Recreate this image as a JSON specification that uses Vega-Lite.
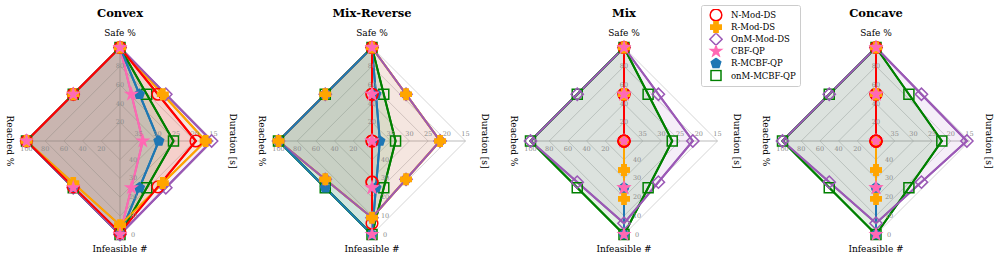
{
  "$schema": "https://vega.github.io/schema/vega-lite/v6.json",
  "padding": {"top": 4, "left": 0, "right": 0, "bottom": 0},
  "spacing": 12,
  "config": {
    "view": {"stroke": null},
    "title": {"font": "DejaVu Serif", "fontSize": 11.5, "fontWeight": "bold", "offset": 3, "color": "#000000", "anchor": "middle"},
    "legend": {"orient": "none", "legendX": 701, "legendY": -17, "labelFont": "DejaVu Serif", "labelFontSize": 8.5, "labelColor": "#000000", "symbolSize": 100, "symbolStrokeWidth": 1.5, "strokeColor": "#cccccc", "fillColor": "rgba(255,255,255,0.8)", "padding": 4, "cornerRadius": 2, "rowPadding": 0.1, "clipHeight": 12, "symbolOffset": 4, "labelOffset": 8, "titlePadding": 0}
  },
  "resolve": {"scale": {"stroke": "shared", "fill": "shared", "shape": "shared", "fillOpacity": "shared", "size": "shared"}, "legend": {"stroke": "shared", "fill": "shared", "shape": "shared", "fillOpacity": "shared"}},
  "datasets": {
    "all": [
      {"k": 1, "a": "Safe %", "v": 20}, {"k": 2, "a": "Safe %", "v": 40}, {"k": 3, "a": "Safe %", "v": 60}, {"k": 4, "a": "Safe %", "v": 80}, {"k": 5, "a": "Safe %", "v": 100},
      {"k": 1, "a": "Duration [s]", "v": 35}, {"k": 2, "a": "Duration [s]", "v": 30}, {"k": 3, "a": "Duration [s]", "v": 25}, {"k": 4, "a": "Duration [s]", "v": 20}, {"k": 5, "a": "Duration [s]", "v": 15},
      {"k": 1, "a": "Infeasible #", "v": 40}, {"k": 2, "a": "Infeasible #", "v": 30}, {"k": 3, "a": "Infeasible #", "v": 20}, {"k": 4, "a": "Infeasible #", "v": 10}, {"k": 5, "a": "Infeasible #", "v": 0},
      {"k": 1, "a": "Reached %", "v": 20}, {"k": 2, "a": "Reached %", "v": 40}, {"k": 3, "a": "Reached %", "v": 60}, {"k": 4, "a": "Reached %", "v": 80}, {"k": 5, "a": "Reached %", "v": 100},

      {"p": "Convex", "s": "N-Mod-DS", "a": "Safe %", "v": 100}, {"p": "Convex", "s": "N-Mod-DS", "a": "Duration [s]", "v": 19.7}, {"p": "Convex", "s": "N-Mod-DS", "a": "Infeasible #", "v": 1}, {"p": "Convex", "s": "N-Mod-DS", "a": "Reached %", "v": 100},
      {"p": "Convex", "s": "R-Mod-DS", "a": "Safe %", "v": 100}, {"p": "Convex", "s": "R-Mod-DS", "a": "Duration [s]", "v": 17.1}, {"p": "Convex", "s": "R-Mod-DS", "a": "Infeasible #", "v": 5}, {"p": "Convex", "s": "R-Mod-DS", "a": "Reached %", "v": 100},
      {"p": "Convex", "s": "OnM-Mod-DS", "a": "Safe %", "v": 100}, {"p": "Convex", "s": "OnM-Mod-DS", "a": "Duration [s]", "v": 15.5}, {"p": "Convex", "s": "OnM-Mod-DS", "a": "Infeasible #", "v": 0}, {"p": "Convex", "s": "OnM-Mod-DS", "a": "Reached %", "v": 100},
      {"p": "Convex", "s": "CBF-QP", "a": "Safe %", "v": 100}, {"p": "Convex", "s": "CBF-QP", "a": "Duration [s]", "v": 33.9}, {"p": "Convex", "s": "CBF-QP", "a": "Infeasible #", "v": 0}, {"p": "Convex", "s": "CBF-QP", "a": "Reached %", "v": 100},
      {"p": "Convex", "s": "R-MCBF-QP", "a": "Safe %", "v": 100}, {"p": "Convex", "s": "R-MCBF-QP", "a": "Duration [s]", "v": 29.6}, {"p": "Convex", "s": "R-MCBF-QP", "a": "Infeasible #", "v": 0}, {"p": "Convex", "s": "R-MCBF-QP", "a": "Reached %", "v": 100},
      {"p": "Convex", "s": "onM-MCBF-QP", "a": "Safe %", "v": 100}, {"p": "Convex", "s": "onM-MCBF-QP", "a": "Duration [s]", "v": 25.7}, {"p": "Convex", "s": "onM-MCBF-QP", "a": "Infeasible #", "v": 0}, {"p": "Convex", "s": "onM-MCBF-QP", "a": "Reached %", "v": 100},

      {"p": "Mix-Reverse", "s": "N-Mod-DS", "a": "Safe %", "v": 100}, {"p": "Mix-Reverse", "s": "N-Mod-DS", "a": "Duration [s]", "v": 40}, {"p": "Mix-Reverse", "s": "N-Mod-DS", "a": "Infeasible #", "v": 6}, {"p": "Mix-Reverse", "s": "N-Mod-DS", "a": "Reached %", "v": 0},
      {"p": "Mix-Reverse", "s": "R-Mod-DS", "a": "Safe %", "v": 100}, {"p": "Mix-Reverse", "s": "R-Mod-DS", "a": "Duration [s]", "v": 21.8}, {"p": "Mix-Reverse", "s": "R-Mod-DS", "a": "Infeasible #", "v": 9}, {"p": "Mix-Reverse", "s": "R-Mod-DS", "a": "Reached %", "v": 100},
      {"p": "Mix-Reverse", "s": "OnM-Mod-DS", "a": "Safe %", "v": 100}, {"p": "Mix-Reverse", "s": "OnM-Mod-DS", "a": "Duration [s]", "v": 21.8}, {"p": "Mix-Reverse", "s": "OnM-Mod-DS", "a": "Infeasible #", "v": 9}, {"p": "Mix-Reverse", "s": "OnM-Mod-DS", "a": "Reached %", "v": 100},
      {"p": "Mix-Reverse", "s": "CBF-QP", "a": "Safe %", "v": 100}, {"p": "Mix-Reverse", "s": "CBF-QP", "a": "Duration [s]", "v": 40}, {"p": "Mix-Reverse", "s": "CBF-QP", "a": "Infeasible #", "v": 0}, {"p": "Mix-Reverse", "s": "CBF-QP", "a": "Reached %", "v": 0},
      {"p": "Mix-Reverse", "s": "R-MCBF-QP", "a": "Safe %", "v": 100}, {"p": "Mix-Reverse", "s": "R-MCBF-QP", "a": "Duration [s]", "v": 37.9}, {"p": "Mix-Reverse", "s": "R-MCBF-QP", "a": "Infeasible #", "v": 0}, {"p": "Mix-Reverse", "s": "R-MCBF-QP", "a": "Reached %", "v": 100},
      {"p": "Mix-Reverse", "s": "onM-MCBF-QP", "a": "Safe %", "v": 100}, {"p": "Mix-Reverse", "s": "onM-MCBF-QP", "a": "Duration [s]", "v": 33.7}, {"p": "Mix-Reverse", "s": "onM-MCBF-QP", "a": "Infeasible #", "v": 0}, {"p": "Mix-Reverse", "s": "onM-MCBF-QP", "a": "Reached %", "v": 100},

      {"p": "Mix", "s": "N-Mod-DS", "a": "Safe %", "v": 100}, {"p": "Mix", "s": "N-Mod-DS", "a": "Duration [s]", "v": 40}, {"p": "Mix", "s": "N-Mod-DS", "a": "Infeasible #", "v": 50}, {"p": "Mix", "s": "N-Mod-DS", "a": "Reached %", "v": 0},
      {"p": "Mix", "s": "R-Mod-DS", "a": "Safe %", "v": 100}, {"p": "Mix", "s": "R-Mod-DS", "a": "Duration [s]", "v": 40}, {"p": "Mix", "s": "R-Mod-DS", "a": "Infeasible #", "v": 19}, {"p": "Mix", "s": "R-Mod-DS", "a": "Reached %", "v": 0},
      {"p": "Mix", "s": "OnM-Mod-DS", "a": "Safe %", "v": 100}, {"p": "Mix", "s": "OnM-Mod-DS", "a": "Duration [s]", "v": 21.6}, {"p": "Mix", "s": "OnM-Mod-DS", "a": "Infeasible #", "v": 6}, {"p": "Mix", "s": "OnM-Mod-DS", "a": "Reached %", "v": 100},
      {"p": "Mix", "s": "CBF-QP", "a": "Safe %", "v": 100}, {"p": "Mix", "s": "CBF-QP", "a": "Duration [s]", "v": 40}, {"p": "Mix", "s": "CBF-QP", "a": "Infeasible #", "v": 0}, {"p": "Mix", "s": "CBF-QP", "a": "Reached %", "v": 0},
      {"p": "Mix", "s": "R-MCBF-QP", "a": "Safe %", "v": 100}, {"p": "Mix", "s": "R-MCBF-QP", "a": "Duration [s]", "v": 40}, {"p": "Mix", "s": "R-MCBF-QP", "a": "Infeasible #", "v": 0}, {"p": "Mix", "s": "R-MCBF-QP", "a": "Reached %", "v": 0},
      {"p": "Mix", "s": "onM-MCBF-QP", "a": "Safe %", "v": 100}, {"p": "Mix", "s": "onM-MCBF-QP", "a": "Duration [s]", "v": 27.1}, {"p": "Mix", "s": "onM-MCBF-QP", "a": "Infeasible #", "v": 0}, {"p": "Mix", "s": "onM-MCBF-QP", "a": "Reached %", "v": 100},

      {"p": "Concave", "s": "N-Mod-DS", "a": "Safe %", "v": 100}, {"p": "Concave", "s": "N-Mod-DS", "a": "Duration [s]", "v": 40}, {"p": "Concave", "s": "N-Mod-DS", "a": "Infeasible #", "v": 50}, {"p": "Concave", "s": "N-Mod-DS", "a": "Reached %", "v": 0},
      {"p": "Concave", "s": "R-Mod-DS", "a": "Safe %", "v": 100}, {"p": "Concave", "s": "R-Mod-DS", "a": "Duration [s]", "v": 40}, {"p": "Concave", "s": "R-Mod-DS", "a": "Infeasible #", "v": 19}, {"p": "Concave", "s": "R-Mod-DS", "a": "Reached %", "v": 0},
      {"p": "Concave", "s": "OnM-Mod-DS", "a": "Safe %", "v": 100}, {"p": "Concave", "s": "OnM-Mod-DS", "a": "Duration [s]", "v": 15.7}, {"p": "Concave", "s": "OnM-Mod-DS", "a": "Infeasible #", "v": 6}, {"p": "Concave", "s": "OnM-Mod-DS", "a": "Reached %", "v": 100},
      {"p": "Concave", "s": "CBF-QP", "a": "Safe %", "v": 100}, {"p": "Concave", "s": "CBF-QP", "a": "Duration [s]", "v": 40}, {"p": "Concave", "s": "CBF-QP", "a": "Infeasible #", "v": 0}, {"p": "Concave", "s": "CBF-QP", "a": "Reached %", "v": 0},
      {"p": "Concave", "s": "R-MCBF-QP", "a": "Safe %", "v": 100}, {"p": "Concave", "s": "R-MCBF-QP", "a": "Duration [s]", "v": 40}, {"p": "Concave", "s": "R-MCBF-QP", "a": "Infeasible #", "v": 0}, {"p": "Concave", "s": "R-MCBF-QP", "a": "Reached %", "v": 0},
      {"p": "Concave", "s": "onM-MCBF-QP", "a": "Safe %", "v": 100}, {"p": "Concave", "s": "onM-MCBF-QP", "a": "Duration [s]", "v": 22.4}, {"p": "Concave", "s": "onM-MCBF-QP", "a": "Infeasible #", "v": 0}, {"p": "Concave", "s": "onM-MCBF-QP", "a": "Reached %", "v": 100}
    ]
  },
  "hconcat": [
    {
      "title": "Convex",
      "width": 240, "height": 236,
      "data": {"name": "all"},
      "transform": [
        {"filter": "!isValid(datum.s) || datum.p == 'Convex'"},
        {"calculate": "indexof(['Safe %','Duration [s]','Infeasible #','Reached %'], datum.a)", "as": "i"},
        {"calculate": "datum.a == 'Duration [s]' ? (40 - datum.v) / 25 : datum.a == 'Infeasible #' ? (50 - datum.v) / 50 : datum.v / 100", "as": "r"},
        {"calculate": "PI / 2 - datum.i * PI / 2", "as": "ang"},
        {"calculate": "datum.r * cos(datum.ang)", "as": "x"},
        {"calculate": "datum.r * sin(datum.ang)", "as": "y"}
      ],
      "encoding": {
        "x": {"field": "px", "type": "quantitative", "scale": {"domain": [-1.2834, 1.2834], "nice": false, "zero": false}, "axis": null},
        "y": {"field": "py", "type": "quantitative", "scale": {"domain": [-1.2513, 1.2727], "nice": false, "zero": false}, "axis": null}
      },
      "layer": [
        {"transform": [{"filter": "isValid(datum.k)"}, {"calculate": "datum.x", "as": "px"}, {"calculate": "datum.y", "as": "py"}],
         "mark": {"type": "line", "interpolate": "linear-closed", "stroke": "#c4c4c4", "strokeWidth": 0.7},
         "encoding": {"detail": {"field": "k", "type": "nominal"}, "order": {"field": "i", "type": "quantitative"}}},
        {"transform": [{"filter": "datum.k == 5"}, {"calculate": "datum.x", "as": "px"}, {"calculate": "datum.y", "as": "py"}],
         "mark": {"type": "rule", "stroke": "#aaaaaa", "strokeWidth": 0.8},
         "encoding": {"x2": {"datum": 0}, "y2": {"datum": 0}}},
        {"transform": [{"filter": "isValid(datum.s)"}, {"calculate": "datum.x", "as": "px"}, {"calculate": "datum.y", "as": "py"}],
         "mark": {"type": "line", "interpolate": "linear-closed", "strokeWidth": 2, "fillOpacity": 0.1},
         "encoding": {"order": {"field": "i", "type": "quantitative"},
           "stroke": {"field": "s", "type": "nominal", "scale": {"domain": ["N-Mod-DS","R-Mod-DS","OnM-Mod-DS","CBF-QP","R-MCBF-QP","onM-MCBF-QP"], "range": ["#ff0000","#ffa500","#9b59b6","#ff69b4","#1f77b4","#008000"]},
             "legend": {"title": null, "encode": {"symbols": {"update": {
               "shape": {"signal": "datum.value == 'N-Mod-DS' ? 'M-2.2,0L2.2,0M1,0A1,1,0,1,1,-1,0A1,1,0,1,1,1,0Z' : datum.value == 'R-Mod-DS' ? 'M-2.2,0L2.2,0M-1,-0.33L-0.33,-0.33L-0.33,-1L0.33,-1L0.33,-0.33L1,-0.33L1,0.33L0.33,0.33L0.33,1L-0.33,1L-0.33,0.33L-1,0.33Z' : datum.value == 'OnM-Mod-DS' ? 'M-2.2,0L2.2,0M-1,0L0,-1L1,0L0,1Z' : datum.value == 'CBF-QP' ? 'M-2.2,0L2.2,0M0,-1L0.2245,-0.309L0.951,-0.309L0.363,0.118L0.588,0.809L0,0.382L-0.588,0.809L-0.363,0.118L-0.951,-0.309L-0.2245,-0.309Z' : datum.value == 'R-MCBF-QP' ? 'M-2.2,0L2.2,0M0,-1L0.951,-0.309L0.588,0.809L-0.588,0.809L-0.951,-0.309Z' : 'M-2.2,0L2.2,0M-1,-1L1,-1L1,1L-1,1Z'"},
               "fillOpacity": {"signal": "indexof(['N-Mod-DS','OnM-Mod-DS','onM-MCBF-QP'], datum.value) >= 0 ? 0 : 1"},
               "size": {"value": 100}, "strokeWidth": {"value": 1.5}}}}}},
           "fill": {"field": "s", "type": "nominal", "scale": {"domain": ["N-Mod-DS","R-Mod-DS","OnM-Mod-DS","CBF-QP","R-MCBF-QP","onM-MCBF-QP"], "range": ["#ff0000","#ffa500","#9b59b6","#ff69b4","#1f77b4","#008000"]},
             "legend": {"title": null, "encode": {"symbols": {"update": {
               "shape": {"signal": "datum.value == 'N-Mod-DS' ? 'M-2.2,0L2.2,0M1,0A1,1,0,1,1,-1,0A1,1,0,1,1,1,0Z' : datum.value == 'R-Mod-DS' ? 'M-2.2,0L2.2,0M-1,-0.33L-0.33,-0.33L-0.33,-1L0.33,-1L0.33,-0.33L1,-0.33L1,0.33L0.33,0.33L0.33,1L-0.33,1L-0.33,0.33L-1,0.33Z' : datum.value == 'OnM-Mod-DS' ? 'M-2.2,0L2.2,0M-1,0L0,-1L1,0L0,1Z' : datum.value == 'CBF-QP' ? 'M-2.2,0L2.2,0M0,-1L0.2245,-0.309L0.951,-0.309L0.363,0.118L0.588,0.809L0,0.382L-0.588,0.809L-0.363,0.118L-0.951,-0.309L-0.2245,-0.309Z' : datum.value == 'R-MCBF-QP' ? 'M-2.2,0L2.2,0M0,-1L0.951,-0.309L0.588,0.809L-0.588,0.809L-0.951,-0.309Z' : 'M-2.2,0L2.2,0M-1,-1L1,-1L1,1L-1,1Z'"},
               "fillOpacity": {"signal": "indexof(['N-Mod-DS','OnM-Mod-DS','onM-MCBF-QP'], datum.value) >= 0 ? 0 : 1"},
               "size": {"value": 100}, "strokeWidth": {"value": 1.5}}}}}}}},
        {"transform": [{"filter": "datum.s == 'onM-MCBF-QP'"}, {"calculate": "datum.x", "as": "px"}, {"calculate": "datum.y", "as": "py"}],
         "mark": {"type": "line", "interpolate": "linear-closed", "strokeWidth": 2},
         "encoding": {"order": {"field": "i", "type": "quantitative"}, "stroke": {"field": "s", "type": "nominal", "scale": {"domain": ["N-Mod-DS","R-Mod-DS","OnM-Mod-DS","CBF-QP","R-MCBF-QP","onM-MCBF-QP"], "range": ["#ff0000","#ffa500","#9b59b6","#ff69b4","#1f77b4","#008000"]}, "legend": {"title": null}}}},
        {"transform": [{"filter": "datum.s == 'CBF-QP'"}, {"calculate": "datum.x", "as": "px"}, {"calculate": "datum.y", "as": "py"}],
         "mark": {"type": "line", "interpolate": "linear-closed", "strokeWidth": 2},
         "encoding": {"order": {"field": "i", "type": "quantitative"}, "stroke": {"field": "s", "type": "nominal", "scale": {"domain": ["N-Mod-DS","R-Mod-DS","OnM-Mod-DS","CBF-QP","R-MCBF-QP","onM-MCBF-QP"], "range": ["#ff0000","#ffa500","#9b59b6","#ff69b4","#1f77b4","#008000"]}, "legend": {"title": null}}}},
        {"transform": [{"filter": "datum.s == 'R-MCBF-QP'"}, {"calculate": "datum.x", "as": "px"}, {"calculate": "datum.y", "as": "py"}],
         "mark": {"type": "line", "interpolate": "linear-closed", "strokeWidth": 2},
         "encoding": {"order": {"field": "i", "type": "quantitative"}, "stroke": {"field": "s", "type": "nominal", "scale": {"domain": ["N-Mod-DS","R-Mod-DS","OnM-Mod-DS","CBF-QP","R-MCBF-QP","onM-MCBF-QP"], "range": ["#ff0000","#ffa500","#9b59b6","#ff69b4","#1f77b4","#008000"]}, "legend": {"title": null}}}},
        {"transform": [{"filter": "datum.s == 'R-Mod-DS'"}, {"calculate": "datum.x", "as": "px"}, {"calculate": "datum.y", "as": "py"}],
         "mark": {"type": "line", "interpolate": "linear-closed", "strokeWidth": 2},
         "encoding": {"order": {"field": "i", "type": "quantitative"}, "stroke": {"field": "s", "type": "nominal", "scale": {"domain": ["N-Mod-DS","R-Mod-DS","OnM-Mod-DS","CBF-QP","R-MCBF-QP","onM-MCBF-QP"], "range": ["#ff0000","#ffa500","#9b59b6","#ff69b4","#1f77b4","#008000"]}, "legend": {"title": null}}}},
        {"transform": [{"filter": "datum.s == 'OnM-Mod-DS'"}, {"calculate": "datum.x", "as": "px"}, {"calculate": "datum.y", "as": "py"}],
         "mark": {"type": "line", "interpolate": "linear-closed", "strokeWidth": 2},
         "encoding": {"order": {"field": "i", "type": "quantitative"}, "stroke": {"field": "s", "type": "nominal", "scale": {"domain": ["N-Mod-DS","R-Mod-DS","OnM-Mod-DS","CBF-QP","R-MCBF-QP","onM-MCBF-QP"], "range": ["#ff0000","#ffa500","#9b59b6","#ff69b4","#1f77b4","#008000"]}, "legend": {"title": null}}}},
        {"transform": [{"filter": "datum.s == 'N-Mod-DS'"}, {"calculate": "datum.x", "as": "px"}, {"calculate": "datum.y", "as": "py"}],
         "mark": {"type": "line", "interpolate": "linear-closed", "strokeWidth": 2},
         "encoding": {"order": {"field": "i", "type": "quantitative"}, "stroke": {"field": "s", "type": "nominal", "scale": {"domain": ["N-Mod-DS","R-Mod-DS","OnM-Mod-DS","CBF-QP","R-MCBF-QP","onM-MCBF-QP"], "range": ["#ff0000","#ffa500","#9b59b6","#ff69b4","#1f77b4","#008000"]}, "legend": {"title": null}}}},
        {"transform": [{"filter": "isValid(datum.k)"}, {"calculate": "datum.x + (datum.a == 'Infeasible #' ? 0.14 : 0)", "as": "px"}, {"calculate": "datum.y + (datum.a == 'Reached %' ? -0.09 : datum.a == 'Duration [s]' ? 0.075 : 0)", "as": "py"}],
         "mark": {"type": "text", "font": "DejaVu Serif", "fontSize": 6.5, "fill": "#8c8c8c", "baseline": "middle", "align": "center"},
         "encoding": {"text": {"field": "v", "type": "quantitative"}}},
        {"transform": [{"filter": "datum.k == 5"}, {"calculate": "datum.i % 2 == 0 ? 1.16 : (datum.i == 1 ? 1.21 : 1.18)", "as": "tr"}, {"calculate": "datum.tr * cos(datum.ang)", "as": "px"}, {"calculate": "datum.tr * sin(datum.ang)", "as": "py"}, {"calculate": "datum.i % 2 == 1 ? 90 : 0", "as": "ta"}],
         "mark": {"type": "text", "font": "DejaVu Serif", "fontSize": 9, "fill": "#000000", "baseline": "middle", "align": "center"},
         "encoding": {"text": {"field": "a", "type": "nominal"}, "angle": {"field": "ta", "type": "quantitative", "scale": null}}},
        {"transform": [{"filter": "isValid(datum.s)"}, {"calculate": "datum.x", "as": "px"}, {"calculate": "datum.y", "as": "py"}, {"calculate": "indexof(['onM-MCBF-QP','R-MCBF-QP','OnM-Mod-DS','N-Mod-DS','R-Mod-DS','CBF-QP'], datum.s)", "as": "z"}],
         "mark": {"type": "point", "filled": true, "strokeWidth": 1.5, "opacity": 1},
         "encoding": {
           "order": {"field": "z", "type": "quantitative"},
           "stroke": {"field": "s", "type": "nominal", "scale": {"domain": ["N-Mod-DS","R-Mod-DS","OnM-Mod-DS","CBF-QP","R-MCBF-QP","onM-MCBF-QP"], "range": ["#ff0000","#ffa500","#9b59b6","#ff69b4","#1f77b4","#008000"]}, "legend": {"title": null}},
           "fill": {"field": "s", "type": "nominal", "scale": {"domain": ["N-Mod-DS","R-Mod-DS","OnM-Mod-DS","CBF-QP","R-MCBF-QP","onM-MCBF-QP"], "range": ["#ff0000","#ffa500","#9b59b6","#ff69b4","#1f77b4","#008000"]}, "legend": {"title": null}},
           "fillOpacity": {"field": "s", "type": "nominal", "scale": {"type": "ordinal", "domain": ["N-Mod-DS","R-Mod-DS","OnM-Mod-DS","CBF-QP","R-MCBF-QP","onM-MCBF-QP"], "range": [0, 1, 0, 1, 1, 0]}, "legend": {"title": null}},
           "shape": {"field": "s", "type": "nominal", "scale": {"domain": ["N-Mod-DS","R-Mod-DS","OnM-Mod-DS","CBF-QP","R-MCBF-QP","onM-MCBF-QP"], "range": ["circle","cross","diamond","M0,-1L0.2245,-0.309L0.951,-0.309L0.363,0.118L0.588,0.809L0,0.382L-0.588,0.809L-0.363,0.118L-0.951,-0.309L-0.2245,-0.309Z","M0,-1L0.951,-0.309L0.588,0.809L-0.588,0.809L-0.951,-0.309Z","square"]}, "legend": {"title": null}},
           "size": {"field": "s", "type": "nominal", "scale": {"type": "ordinal", "domain": ["N-Mod-DS","R-Mod-DS","OnM-Mod-DS","CBF-QP","R-MCBF-QP","onM-MCBF-QP"], "range": [135, 110, 150, 121, 100, 100]}, "legend": null}}},
        {"transform": [{"filter": "isValid(datum.s)"}, {"window": [{"op": "lead", "field": "x", "as": "nx"}, {"op": "lead", "field": "y", "as": "ny"}, {"op": "first_value", "field": "x", "as": "fx"}, {"op": "first_value", "field": "y", "as": "fy"}], "groupby": ["s"], "sort": [{"field": "i", "order": "ascending"}], "frame": [null, null]}, {"calculate": "(datum.x + (isValid(datum.nx) ? datum.nx : datum.fx)) / 2", "as": "px"}, {"calculate": "(datum.y + (isValid(datum.ny) ? datum.ny : datum.fy)) / 2", "as": "py"}, {"calculate": "indexof(['onM-MCBF-QP','R-MCBF-QP','OnM-Mod-DS','N-Mod-DS','R-Mod-DS','CBF-QP'], datum.s)", "as": "z"}],
         "mark": {"type": "point", "filled": true, "strokeWidth": 1.5, "opacity": 1},
         "encoding": {
           "order": {"field": "z", "type": "quantitative"},
           "stroke": {"field": "s", "type": "nominal", "scale": {"domain": ["N-Mod-DS","R-Mod-DS","OnM-Mod-DS","CBF-QP","R-MCBF-QP","onM-MCBF-QP"], "range": ["#ff0000","#ffa500","#9b59b6","#ff69b4","#1f77b4","#008000"]}, "legend": {"title": null}},
           "fill": {"field": "s", "type": "nominal", "scale": {"domain": ["N-Mod-DS","R-Mod-DS","OnM-Mod-DS","CBF-QP","R-MCBF-QP","onM-MCBF-QP"], "range": ["#ff0000","#ffa500","#9b59b6","#ff69b4","#1f77b4","#008000"]}, "legend": {"title": null}},
           "fillOpacity": {"field": "s", "type": "nominal", "scale": {"type": "ordinal", "domain": ["N-Mod-DS","R-Mod-DS","OnM-Mod-DS","CBF-QP","R-MCBF-QP","onM-MCBF-QP"], "range": [0, 1, 0, 1, 1, 0]}, "legend": {"title": null}},
           "shape": {"field": "s", "type": "nominal", "scale": {"domain": ["N-Mod-DS","R-Mod-DS","OnM-Mod-DS","CBF-QP","R-MCBF-QP","onM-MCBF-QP"], "range": ["circle","cross","diamond","M0,-1L0.2245,-0.309L0.951,-0.309L0.363,0.118L0.588,0.809L0,0.382L-0.588,0.809L-0.363,0.118L-0.951,-0.309L-0.2245,-0.309Z","M0,-1L0.951,-0.309L0.588,0.809L-0.588,0.809L-0.951,-0.309Z","square"]}, "legend": {"title": null}},
           "size": {"field": "s", "type": "nominal", "scale": {"type": "ordinal", "domain": ["N-Mod-DS","R-Mod-DS","OnM-Mod-DS","CBF-QP","R-MCBF-QP","onM-MCBF-QP"], "range": [135, 110, 150, 121, 100, 100]}, "legend": null}}}
      ]
    },
    {
      "title": "Mix-Reverse",
      "width": 240, "height": 236,
      "data": {"name": "all"},
      "transform": [
        {"filter": "!isValid(datum.s) || datum.p == 'Mix-Reverse'"},
        {"calculate": "indexof(['Safe %','Duration [s]','Infeasible #','Reached %'], datum.a)", "as": "i"},
        {"calculate": "datum.a == 'Duration [s]' ? (40 - datum.v) / 25 : datum.a == 'Infeasible #' ? (50 - datum.v) / 50 : datum.v / 100", "as": "r"},
        {"calculate": "PI / 2 - datum.i * PI / 2", "as": "ang"},
        {"calculate": "datum.r * cos(datum.ang)", "as": "x"},
        {"calculate": "datum.r * sin(datum.ang)", "as": "y"}
      ],
      "encoding": {
        "x": {"field": "px", "type": "quantitative", "scale": {"domain": [-1.2834, 1.2834], "nice": false, "zero": false}, "axis": null},
        "y": {"field": "py", "type": "quantitative", "scale": {"domain": [-1.2513, 1.2727], "nice": false, "zero": false}, "axis": null}
      },
      "layer": [
        {"transform": [{"filter": "isValid(datum.k)"}, {"calculate": "datum.x", "as": "px"}, {"calculate": "datum.y", "as": "py"}],
         "mark": {"type": "line", "interpolate": "linear-closed", "stroke": "#c4c4c4", "strokeWidth": 0.7},
         "encoding": {"detail": {"field": "k", "type": "nominal"}, "order": {"field": "i", "type": "quantitative"}}},
        {"transform": [{"filter": "datum.k == 5"}, {"calculate": "datum.x", "as": "px"}, {"calculate": "datum.y", "as": "py"}],
         "mark": {"type": "rule", "stroke": "#aaaaaa", "strokeWidth": 0.8},
         "encoding": {"x2": {"datum": 0}, "y2": {"datum": 0}}},
        {"transform": [{"filter": "isValid(datum.s)"}, {"calculate": "datum.x", "as": "px"}, {"calculate": "datum.y", "as": "py"}],
         "mark": {"type": "line", "interpolate": "linear-closed", "strokeWidth": 2, "fillOpacity": 0.1},
         "encoding": {"order": {"field": "i", "type": "quantitative"},
           "stroke": {"field": "s", "type": "nominal", "scale": {"domain": ["N-Mod-DS","R-Mod-DS","OnM-Mod-DS","CBF-QP","R-MCBF-QP","onM-MCBF-QP"], "range": ["#ff0000","#ffa500","#9b59b6","#ff69b4","#1f77b4","#008000"]}, "legend": {"title": null}},
           "fill": {"field": "s", "type": "nominal", "scale": {"domain": ["N-Mod-DS","R-Mod-DS","OnM-Mod-DS","CBF-QP","R-MCBF-QP","onM-MCBF-QP"], "range": ["#ff0000","#ffa500","#9b59b6","#ff69b4","#1f77b4","#008000"]}, "legend": {"title": null}}}},
        {"transform": [{"filter": "datum.s == 'onM-MCBF-QP'"}, {"calculate": "datum.x", "as": "px"}, {"calculate": "datum.y", "as": "py"}],
         "mark": {"type": "line", "interpolate": "linear-closed", "strokeWidth": 2},
         "encoding": {"order": {"field": "i", "type": "quantitative"}, "stroke": {"field": "s", "type": "nominal", "scale": {"domain": ["N-Mod-DS","R-Mod-DS","OnM-Mod-DS","CBF-QP","R-MCBF-QP","onM-MCBF-QP"], "range": ["#ff0000","#ffa500","#9b59b6","#ff69b4","#1f77b4","#008000"]}, "legend": {"title": null}}}},
        {"transform": [{"filter": "datum.s == 'CBF-QP'"}, {"calculate": "datum.x", "as": "px"}, {"calculate": "datum.y", "as": "py"}],
         "mark": {"type": "line", "interpolate": "linear-closed", "strokeWidth": 2},
         "encoding": {"order": {"field": "i", "type": "quantitative"}, "stroke": {"field": "s", "type": "nominal", "scale": {"domain": ["N-Mod-DS","R-Mod-DS","OnM-Mod-DS","CBF-QP","R-MCBF-QP","onM-MCBF-QP"], "range": ["#ff0000","#ffa500","#9b59b6","#ff69b4","#1f77b4","#008000"]}, "legend": {"title": null}}}},
        {"transform": [{"filter": "datum.s == 'R-Mod-DS'"}, {"calculate": "datum.x", "as": "px"}, {"calculate": "datum.y", "as": "py"}],
         "mark": {"type": "line", "interpolate": "linear-closed", "strokeWidth": 2},
         "encoding": {"order": {"field": "i", "type": "quantitative"}, "stroke": {"field": "s", "type": "nominal", "scale": {"domain": ["N-Mod-DS","R-Mod-DS","OnM-Mod-DS","CBF-QP","R-MCBF-QP","onM-MCBF-QP"], "range": ["#ff0000","#ffa500","#9b59b6","#ff69b4","#1f77b4","#008000"]}, "legend": {"title": null}}}},
        {"transform": [{"filter": "datum.s == 'OnM-Mod-DS'"}, {"calculate": "datum.x", "as": "px"}, {"calculate": "datum.y", "as": "py"}],
         "mark": {"type": "line", "interpolate": "linear-closed", "strokeWidth": 2},
         "encoding": {"order": {"field": "i", "type": "quantitative"}, "stroke": {"field": "s", "type": "nominal", "scale": {"domain": ["N-Mod-DS","R-Mod-DS","OnM-Mod-DS","CBF-QP","R-MCBF-QP","onM-MCBF-QP"], "range": ["#ff0000","#ffa500","#9b59b6","#ff69b4","#1f77b4","#008000"]}, "legend": {"title": null}}}},
        {"transform": [{"filter": "datum.s == 'R-MCBF-QP'"}, {"calculate": "datum.x", "as": "px"}, {"calculate": "datum.y", "as": "py"}],
         "mark": {"type": "line", "interpolate": "linear-closed", "strokeWidth": 2},
         "encoding": {"order": {"field": "i", "type": "quantitative"}, "stroke": {"field": "s", "type": "nominal", "scale": {"domain": ["N-Mod-DS","R-Mod-DS","OnM-Mod-DS","CBF-QP","R-MCBF-QP","onM-MCBF-QP"], "range": ["#ff0000","#ffa500","#9b59b6","#ff69b4","#1f77b4","#008000"]}, "legend": {"title": null}}}},
        {"transform": [{"filter": "datum.s == 'N-Mod-DS'"}, {"calculate": "datum.x", "as": "px"}, {"calculate": "datum.y", "as": "py"}],
         "mark": {"type": "line", "interpolate": "linear-closed", "strokeWidth": 2},
         "encoding": {"order": {"field": "i", "type": "quantitative"}, "stroke": {"field": "s", "type": "nominal", "scale": {"domain": ["N-Mod-DS","R-Mod-DS","OnM-Mod-DS","CBF-QP","R-MCBF-QP","onM-MCBF-QP"], "range": ["#ff0000","#ffa500","#9b59b6","#ff69b4","#1f77b4","#008000"]}, "legend": {"title": null}}}},
        {"transform": [{"filter": "isValid(datum.k)"}, {"calculate": "datum.x + (datum.a == 'Infeasible #' ? 0.14 : 0)", "as": "px"}, {"calculate": "datum.y + (datum.a == 'Reached %' ? -0.09 : datum.a == 'Duration [s]' ? 0.075 : 0)", "as": "py"}],
         "mark": {"type": "text", "font": "DejaVu Serif", "fontSize": 6.5, "fill": "#8c8c8c", "baseline": "middle", "align": "center"},
         "encoding": {"text": {"field": "v", "type": "quantitative"}}},
        {"transform": [{"filter": "datum.k == 5"}, {"calculate": "datum.i % 2 == 0 ? 1.16 : (datum.i == 1 ? 1.21 : 1.18)", "as": "tr"}, {"calculate": "datum.tr * cos(datum.ang)", "as": "px"}, {"calculate": "datum.tr * sin(datum.ang)", "as": "py"}, {"calculate": "datum.i % 2 == 1 ? 90 : 0", "as": "ta"}],
         "mark": {"type": "text", "font": "DejaVu Serif", "fontSize": 9, "fill": "#000000", "baseline": "middle", "align": "center"},
         "encoding": {"text": {"field": "a", "type": "nominal"}, "angle": {"field": "ta", "type": "quantitative", "scale": null}}},
        {"transform": [{"filter": "isValid(datum.s)"}, {"calculate": "datum.x", "as": "px"}, {"calculate": "datum.y", "as": "py"}, {"calculate": "indexof(['onM-MCBF-QP','R-MCBF-QP','OnM-Mod-DS','N-Mod-DS','R-Mod-DS','CBF-QP'], datum.s)", "as": "z"}],
         "mark": {"type": "point", "filled": true, "strokeWidth": 1.5, "opacity": 1},
         "encoding": {
           "order": {"field": "z", "type": "quantitative"},
           "stroke": {"field": "s", "type": "nominal", "scale": {"domain": ["N-Mod-DS","R-Mod-DS","OnM-Mod-DS","CBF-QP","R-MCBF-QP","onM-MCBF-QP"], "range": ["#ff0000","#ffa500","#9b59b6","#ff69b4","#1f77b4","#008000"]}, "legend": {"title": null}},
           "fill": {"field": "s", "type": "nominal", "scale": {"domain": ["N-Mod-DS","R-Mod-DS","OnM-Mod-DS","CBF-QP","R-MCBF-QP","onM-MCBF-QP"], "range": ["#ff0000","#ffa500","#9b59b6","#ff69b4","#1f77b4","#008000"]}, "legend": {"title": null}},
           "fillOpacity": {"field": "s", "type": "nominal", "scale": {"type": "ordinal", "domain": ["N-Mod-DS","R-Mod-DS","OnM-Mod-DS","CBF-QP","R-MCBF-QP","onM-MCBF-QP"], "range": [0, 1, 0, 1, 1, 0]}, "legend": {"title": null}},
           "shape": {"field": "s", "type": "nominal", "scale": {"domain": ["N-Mod-DS","R-Mod-DS","OnM-Mod-DS","CBF-QP","R-MCBF-QP","onM-MCBF-QP"], "range": ["circle","cross","diamond","M0,-1L0.2245,-0.309L0.951,-0.309L0.363,0.118L0.588,0.809L0,0.382L-0.588,0.809L-0.363,0.118L-0.951,-0.309L-0.2245,-0.309Z","M0,-1L0.951,-0.309L0.588,0.809L-0.588,0.809L-0.951,-0.309Z","square"]}, "legend": {"title": null}},
           "size": {"field": "s", "type": "nominal", "scale": {"type": "ordinal", "domain": ["N-Mod-DS","R-Mod-DS","OnM-Mod-DS","CBF-QP","R-MCBF-QP","onM-MCBF-QP"], "range": [135, 110, 150, 121, 100, 100]}, "legend": null}}},
        {"transform": [{"filter": "isValid(datum.s)"}, {"window": [{"op": "lead", "field": "x", "as": "nx"}, {"op": "lead", "field": "y", "as": "ny"}, {"op": "first_value", "field": "x", "as": "fx"}, {"op": "first_value", "field": "y", "as": "fy"}], "groupby": ["s"], "sort": [{"field": "i", "order": "ascending"}], "frame": [null, null]}, {"calculate": "(datum.x + (isValid(datum.nx) ? datum.nx : datum.fx)) / 2", "as": "px"}, {"calculate": "(datum.y + (isValid(datum.ny) ? datum.ny : datum.fy)) / 2", "as": "py"}, {"calculate": "indexof(['onM-MCBF-QP','R-MCBF-QP','OnM-Mod-DS','N-Mod-DS','R-Mod-DS','CBF-QP'], datum.s)", "as": "z"}],
         "mark": {"type": "point", "filled": true, "strokeWidth": 1.5, "opacity": 1},
         "encoding": {
           "order": {"field": "z", "type": "quantitative"},
           "stroke": {"field": "s", "type": "nominal", "scale": {"domain": ["N-Mod-DS","R-Mod-DS","OnM-Mod-DS","CBF-QP","R-MCBF-QP","onM-MCBF-QP"], "range": ["#ff0000","#ffa500","#9b59b6","#ff69b4","#1f77b4","#008000"]}, "legend": {"title": null}},
           "fill": {"field": "s", "type": "nominal", "scale": {"domain": ["N-Mod-DS","R-Mod-DS","OnM-Mod-DS","CBF-QP","R-MCBF-QP","onM-MCBF-QP"], "range": ["#ff0000","#ffa500","#9b59b6","#ff69b4","#1f77b4","#008000"]}, "legend": {"title": null}},
           "fillOpacity": {"field": "s", "type": "nominal", "scale": {"type": "ordinal", "domain": ["N-Mod-DS","R-Mod-DS","OnM-Mod-DS","CBF-QP","R-MCBF-QP","onM-MCBF-QP"], "range": [0, 1, 0, 1, 1, 0]}, "legend": {"title": null}},
           "shape": {"field": "s", "type": "nominal", "scale": {"domain": ["N-Mod-DS","R-Mod-DS","OnM-Mod-DS","CBF-QP","R-MCBF-QP","onM-MCBF-QP"], "range": ["circle","cross","diamond","M0,-1L0.2245,-0.309L0.951,-0.309L0.363,0.118L0.588,0.809L0,0.382L-0.588,0.809L-0.363,0.118L-0.951,-0.309L-0.2245,-0.309Z","M0,-1L0.951,-0.309L0.588,0.809L-0.588,0.809L-0.951,-0.309Z","square"]}, "legend": {"title": null}},
           "size": {"field": "s", "type": "nominal", "scale": {"type": "ordinal", "domain": ["N-Mod-DS","R-Mod-DS","OnM-Mod-DS","CBF-QP","R-MCBF-QP","onM-MCBF-QP"], "range": [135, 110, 150, 121, 100, 100]}, "legend": null}}}
      ]
    },
    {
      "title": "Mix",
      "width": 240, "height": 236,
      "data": {"name": "all"},
      "transform": [
        {"filter": "!isValid(datum.s) || datum.p == 'Mix'"},
        {"calculate": "indexof(['Safe %','Duration [s]','Infeasible #','Reached %'], datum.a)", "as": "i"},
        {"calculate": "datum.a == 'Duration [s]' ? (40 - datum.v) / 25 : datum.a == 'Infeasible #' ? (50 - datum.v) / 50 : datum.v / 100", "as": "r"},
        {"calculate": "PI / 2 - datum.i * PI / 2", "as": "ang"},
        {"calculate": "datum.r * cos(datum.ang)", "as": "x"},
        {"calculate": "datum.r * sin(datum.ang)", "as": "y"}
      ],
      "encoding": {
        "x": {"field": "px", "type": "quantitative", "scale": {"domain": [-1.2834, 1.2834], "nice": false, "zero": false}, "axis": null},
        "y": {"field": "py", "type": "quantitative", "scale": {"domain": [-1.2513, 1.2727], "nice": false, "zero": false}, "axis": null}
      },
      "layer": [
        {"transform": [{"filter": "isValid(datum.k)"}, {"calculate": "datum.x", "as": "px"}, {"calculate": "datum.y", "as": "py"}],
         "mark": {"type": "line", "interpolate": "linear-closed", "stroke": "#c4c4c4", "strokeWidth": 0.7},
         "encoding": {"detail": {"field": "k", "type": "nominal"}, "order": {"field": "i", "type": "quantitative"}}},
        {"transform": [{"filter": "datum.k == 5"}, {"calculate": "datum.x", "as": "px"}, {"calculate": "datum.y", "as": "py"}],
         "mark": {"type": "rule", "stroke": "#aaaaaa", "strokeWidth": 0.8},
         "encoding": {"x2": {"datum": 0}, "y2": {"datum": 0}}},
        {"transform": [{"filter": "isValid(datum.s)"}, {"calculate": "datum.x", "as": "px"}, {"calculate": "datum.y", "as": "py"}],
         "mark": {"type": "line", "interpolate": "linear-closed", "strokeWidth": 2, "fillOpacity": 0.1},
         "encoding": {"order": {"field": "i", "type": "quantitative"},
           "stroke": {"field": "s", "type": "nominal", "scale": {"domain": ["N-Mod-DS","R-Mod-DS","OnM-Mod-DS","CBF-QP","R-MCBF-QP","onM-MCBF-QP"], "range": ["#ff0000","#ffa500","#9b59b6","#ff69b4","#1f77b4","#008000"]}, "legend": {"title": null}},
           "fill": {"field": "s", "type": "nominal", "scale": {"domain": ["N-Mod-DS","R-Mod-DS","OnM-Mod-DS","CBF-QP","R-MCBF-QP","onM-MCBF-QP"], "range": ["#ff0000","#ffa500","#9b59b6","#ff69b4","#1f77b4","#008000"]}, "legend": {"title": null}}}},
        {"transform": [{"filter": "datum.s == 'onM-MCBF-QP'"}, {"calculate": "datum.x", "as": "px"}, {"calculate": "datum.y", "as": "py"}],
         "mark": {"type": "line", "interpolate": "linear-closed", "strokeWidth": 2},
         "encoding": {"order": {"field": "i", "type": "quantitative"}, "stroke": {"field": "s", "type": "nominal", "scale": {"domain": ["N-Mod-DS","R-Mod-DS","OnM-Mod-DS","CBF-QP","R-MCBF-QP","onM-MCBF-QP"], "range": ["#ff0000","#ffa500","#9b59b6","#ff69b4","#1f77b4","#008000"]}, "legend": {"title": null}}}},
        {"transform": [{"filter": "datum.s == 'CBF-QP'"}, {"calculate": "datum.x", "as": "px"}, {"calculate": "datum.y", "as": "py"}],
         "mark": {"type": "line", "interpolate": "linear-closed", "strokeWidth": 2},
         "encoding": {"order": {"field": "i", "type": "quantitative"}, "stroke": {"field": "s", "type": "nominal", "scale": {"domain": ["N-Mod-DS","R-Mod-DS","OnM-Mod-DS","CBF-QP","R-MCBF-QP","onM-MCBF-QP"], "range": ["#ff0000","#ffa500","#9b59b6","#ff69b4","#1f77b4","#008000"]}, "legend": {"title": null}}}},
        {"transform": [{"filter": "datum.s == 'R-MCBF-QP'"}, {"calculate": "datum.x", "as": "px"}, {"calculate": "datum.y", "as": "py"}],
         "mark": {"type": "line", "interpolate": "linear-closed", "strokeWidth": 2},
         "encoding": {"order": {"field": "i", "type": "quantitative"}, "stroke": {"field": "s", "type": "nominal", "scale": {"domain": ["N-Mod-DS","R-Mod-DS","OnM-Mod-DS","CBF-QP","R-MCBF-QP","onM-MCBF-QP"], "range": ["#ff0000","#ffa500","#9b59b6","#ff69b4","#1f77b4","#008000"]}, "legend": {"title": null}}}},
        {"transform": [{"filter": "datum.s == 'R-Mod-DS'"}, {"calculate": "datum.x", "as": "px"}, {"calculate": "datum.y", "as": "py"}],
         "mark": {"type": "line", "interpolate": "linear-closed", "strokeWidth": 2},
         "encoding": {"order": {"field": "i", "type": "quantitative"}, "stroke": {"field": "s", "type": "nominal", "scale": {"domain": ["N-Mod-DS","R-Mod-DS","OnM-Mod-DS","CBF-QP","R-MCBF-QP","onM-MCBF-QP"], "range": ["#ff0000","#ffa500","#9b59b6","#ff69b4","#1f77b4","#008000"]}, "legend": {"title": null}}}},
        {"transform": [{"filter": "datum.s == 'OnM-Mod-DS'"}, {"calculate": "datum.x", "as": "px"}, {"calculate": "datum.y", "as": "py"}],
         "mark": {"type": "line", "interpolate": "linear-closed", "strokeWidth": 2},
         "encoding": {"order": {"field": "i", "type": "quantitative"}, "stroke": {"field": "s", "type": "nominal", "scale": {"domain": ["N-Mod-DS","R-Mod-DS","OnM-Mod-DS","CBF-QP","R-MCBF-QP","onM-MCBF-QP"], "range": ["#ff0000","#ffa500","#9b59b6","#ff69b4","#1f77b4","#008000"]}, "legend": {"title": null}}}},
        {"transform": [{"filter": "datum.s == 'N-Mod-DS'"}, {"calculate": "datum.x", "as": "px"}, {"calculate": "datum.y", "as": "py"}],
         "mark": {"type": "line", "interpolate": "linear-closed", "strokeWidth": 2},
         "encoding": {"order": {"field": "i", "type": "quantitative"}, "stroke": {"field": "s", "type": "nominal", "scale": {"domain": ["N-Mod-DS","R-Mod-DS","OnM-Mod-DS","CBF-QP","R-MCBF-QP","onM-MCBF-QP"], "range": ["#ff0000","#ffa500","#9b59b6","#ff69b4","#1f77b4","#008000"]}, "legend": {"title": null}}}},
        {"transform": [{"filter": "isValid(datum.k)"}, {"calculate": "datum.x + (datum.a == 'Infeasible #' ? 0.14 : 0)", "as": "px"}, {"calculate": "datum.y + (datum.a == 'Reached %' ? -0.09 : datum.a == 'Duration [s]' ? 0.075 : 0)", "as": "py"}],
         "mark": {"type": "text", "font": "DejaVu Serif", "fontSize": 6.5, "fill": "#8c8c8c", "baseline": "middle", "align": "center"},
         "encoding": {"text": {"field": "v", "type": "quantitative"}}},
        {"transform": [{"filter": "datum.k == 5"}, {"calculate": "datum.i % 2 == 0 ? 1.16 : (datum.i == 1 ? 1.21 : 1.18)", "as": "tr"}, {"calculate": "datum.tr * cos(datum.ang)", "as": "px"}, {"calculate": "datum.tr * sin(datum.ang)", "as": "py"}, {"calculate": "datum.i % 2 == 1 ? 90 : 0", "as": "ta"}],
         "mark": {"type": "text", "font": "DejaVu Serif", "fontSize": 9, "fill": "#000000", "baseline": "middle", "align": "center"},
         "encoding": {"text": {"field": "a", "type": "nominal"}, "angle": {"field": "ta", "type": "quantitative", "scale": null}}},
        {"transform": [{"filter": "isValid(datum.s)"}, {"calculate": "datum.x", "as": "px"}, {"calculate": "datum.y", "as": "py"}, {"calculate": "indexof(['onM-MCBF-QP','R-MCBF-QP','OnM-Mod-DS','N-Mod-DS','R-Mod-DS','CBF-QP'], datum.s)", "as": "z"}],
         "mark": {"type": "point", "filled": true, "strokeWidth": 1.5, "opacity": 1},
         "encoding": {
           "order": {"field": "z", "type": "quantitative"},
           "stroke": {"field": "s", "type": "nominal", "scale": {"domain": ["N-Mod-DS","R-Mod-DS","OnM-Mod-DS","CBF-QP","R-MCBF-QP","onM-MCBF-QP"], "range": ["#ff0000","#ffa500","#9b59b6","#ff69b4","#1f77b4","#008000"]}, "legend": {"title": null}},
           "fill": {"field": "s", "type": "nominal", "scale": {"domain": ["N-Mod-DS","R-Mod-DS","OnM-Mod-DS","CBF-QP","R-MCBF-QP","onM-MCBF-QP"], "range": ["#ff0000","#ffa500","#9b59b6","#ff69b4","#1f77b4","#008000"]}, "legend": {"title": null}},
           "fillOpacity": {"field": "s", "type": "nominal", "scale": {"type": "ordinal", "domain": ["N-Mod-DS","R-Mod-DS","OnM-Mod-DS","CBF-QP","R-MCBF-QP","onM-MCBF-QP"], "range": [0, 1, 0, 1, 1, 0]}, "legend": {"title": null}},
           "shape": {"field": "s", "type": "nominal", "scale": {"domain": ["N-Mod-DS","R-Mod-DS","OnM-Mod-DS","CBF-QP","R-MCBF-QP","onM-MCBF-QP"], "range": ["circle","cross","diamond","M0,-1L0.2245,-0.309L0.951,-0.309L0.363,0.118L0.588,0.809L0,0.382L-0.588,0.809L-0.363,0.118L-0.951,-0.309L-0.2245,-0.309Z","M0,-1L0.951,-0.309L0.588,0.809L-0.588,0.809L-0.951,-0.309Z","square"]}, "legend": {"title": null}},
           "size": {"field": "s", "type": "nominal", "scale": {"type": "ordinal", "domain": ["N-Mod-DS","R-Mod-DS","OnM-Mod-DS","CBF-QP","R-MCBF-QP","onM-MCBF-QP"], "range": [135, 110, 150, 121, 100, 100]}, "legend": null}}},
        {"transform": [{"filter": "isValid(datum.s)"}, {"window": [{"op": "lead", "field": "x", "as": "nx"}, {"op": "lead", "field": "y", "as": "ny"}, {"op": "first_value", "field": "x", "as": "fx"}, {"op": "first_value", "field": "y", "as": "fy"}], "groupby": ["s"], "sort": [{"field": "i", "order": "ascending"}], "frame": [null, null]}, {"calculate": "(datum.x + (isValid(datum.nx) ? datum.nx : datum.fx)) / 2", "as": "px"}, {"calculate": "(datum.y + (isValid(datum.ny) ? datum.ny : datum.fy)) / 2", "as": "py"}, {"calculate": "indexof(['onM-MCBF-QP','R-MCBF-QP','OnM-Mod-DS','N-Mod-DS','R-Mod-DS','CBF-QP'], datum.s)", "as": "z"}],
         "mark": {"type": "point", "filled": true, "strokeWidth": 1.5, "opacity": 1},
         "encoding": {
           "order": {"field": "z", "type": "quantitative"},
           "stroke": {"field": "s", "type": "nominal", "scale": {"domain": ["N-Mod-DS","R-Mod-DS","OnM-Mod-DS","CBF-QP","R-MCBF-QP","onM-MCBF-QP"], "range": ["#ff0000","#ffa500","#9b59b6","#ff69b4","#1f77b4","#008000"]}, "legend": {"title": null}},
           "fill": {"field": "s", "type": "nominal", "scale": {"domain": ["N-Mod-DS","R-Mod-DS","OnM-Mod-DS","CBF-QP","R-MCBF-QP","onM-MCBF-QP"], "range": ["#ff0000","#ffa500","#9b59b6","#ff69b4","#1f77b4","#008000"]}, "legend": {"title": null}},
           "fillOpacity": {"field": "s", "type": "nominal", "scale": {"type": "ordinal", "domain": ["N-Mod-DS","R-Mod-DS","OnM-Mod-DS","CBF-QP","R-MCBF-QP","onM-MCBF-QP"], "range": [0, 1, 0, 1, 1, 0]}, "legend": {"title": null}},
           "shape": {"field": "s", "type": "nominal", "scale": {"domain": ["N-Mod-DS","R-Mod-DS","OnM-Mod-DS","CBF-QP","R-MCBF-QP","onM-MCBF-QP"], "range": ["circle","cross","diamond","M0,-1L0.2245,-0.309L0.951,-0.309L0.363,0.118L0.588,0.809L0,0.382L-0.588,0.809L-0.363,0.118L-0.951,-0.309L-0.2245,-0.309Z","M0,-1L0.951,-0.309L0.588,0.809L-0.588,0.809L-0.951,-0.309Z","square"]}, "legend": {"title": null}},
           "size": {"field": "s", "type": "nominal", "scale": {"type": "ordinal", "domain": ["N-Mod-DS","R-Mod-DS","OnM-Mod-DS","CBF-QP","R-MCBF-QP","onM-MCBF-QP"], "range": [135, 110, 150, 121, 100, 100]}, "legend": null}}}
      ]
    },
    {
      "title": "Concave",
      "width": 240, "height": 236,
      "data": {"name": "all"},
      "transform": [
        {"filter": "!isValid(datum.s) || datum.p == 'Concave'"},
        {"calculate": "indexof(['Safe %','Duration [s]','Infeasible #','Reached %'], datum.a)", "as": "i"},
        {"calculate": "datum.a == 'Duration [s]' ? (40 - datum.v) / 25 : datum.a == 'Infeasible #' ? (50 - datum.v) / 50 : datum.v / 100", "as": "r"},
        {"calculate": "PI / 2 - datum.i * PI / 2", "as": "ang"},
        {"calculate": "datum.r * cos(datum.ang)", "as": "x"},
        {"calculate": "datum.r * sin(datum.ang)", "as": "y"}
      ],
      "encoding": {
        "x": {"field": "px", "type": "quantitative", "scale": {"domain": [-1.2834, 1.2834], "nice": false, "zero": false}, "axis": null},
        "y": {"field": "py", "type": "quantitative", "scale": {"domain": [-1.2513, 1.2727], "nice": false, "zero": false}, "axis": null}
      },
      "layer": [
        {"transform": [{"filter": "isValid(datum.k)"}, {"calculate": "datum.x", "as": "px"}, {"calculate": "datum.y", "as": "py"}],
         "mark": {"type": "line", "interpolate": "linear-closed", "stroke": "#c4c4c4", "strokeWidth": 0.7},
         "encoding": {"detail": {"field": "k", "type": "nominal"}, "order": {"field": "i", "type": "quantitative"}}},
        {"transform": [{"filter": "datum.k == 5"}, {"calculate": "datum.x", "as": "px"}, {"calculate": "datum.y", "as": "py"}],
         "mark": {"type": "rule", "stroke": "#aaaaaa", "strokeWidth": 0.8},
         "encoding": {"x2": {"datum": 0}, "y2": {"datum": 0}}},
        {"transform": [{"filter": "isValid(datum.s)"}, {"calculate": "datum.x", "as": "px"}, {"calculate": "datum.y", "as": "py"}],
         "mark": {"type": "line", "interpolate": "linear-closed", "strokeWidth": 2, "fillOpacity": 0.1},
         "encoding": {"order": {"field": "i", "type": "quantitative"},
           "stroke": {"field": "s", "type": "nominal", "scale": {"domain": ["N-Mod-DS","R-Mod-DS","OnM-Mod-DS","CBF-QP","R-MCBF-QP","onM-MCBF-QP"], "range": ["#ff0000","#ffa500","#9b59b6","#ff69b4","#1f77b4","#008000"]}, "legend": {"title": null}},
           "fill": {"field": "s", "type": "nominal", "scale": {"domain": ["N-Mod-DS","R-Mod-DS","OnM-Mod-DS","CBF-QP","R-MCBF-QP","onM-MCBF-QP"], "range": ["#ff0000","#ffa500","#9b59b6","#ff69b4","#1f77b4","#008000"]}, "legend": {"title": null}}}},
        {"transform": [{"filter": "datum.s == 'onM-MCBF-QP'"}, {"calculate": "datum.x", "as": "px"}, {"calculate": "datum.y", "as": "py"}],
         "mark": {"type": "line", "interpolate": "linear-closed", "strokeWidth": 2},
         "encoding": {"order": {"field": "i", "type": "quantitative"}, "stroke": {"field": "s", "type": "nominal", "scale": {"domain": ["N-Mod-DS","R-Mod-DS","OnM-Mod-DS","CBF-QP","R-MCBF-QP","onM-MCBF-QP"], "range": ["#ff0000","#ffa500","#9b59b6","#ff69b4","#1f77b4","#008000"]}, "legend": {"title": null}}}},
        {"transform": [{"filter": "datum.s == 'CBF-QP'"}, {"calculate": "datum.x", "as": "px"}, {"calculate": "datum.y", "as": "py"}],
         "mark": {"type": "line", "interpolate": "linear-closed", "strokeWidth": 2},
         "encoding": {"order": {"field": "i", "type": "quantitative"}, "stroke": {"field": "s", "type": "nominal", "scale": {"domain": ["N-Mod-DS","R-Mod-DS","OnM-Mod-DS","CBF-QP","R-MCBF-QP","onM-MCBF-QP"], "range": ["#ff0000","#ffa500","#9b59b6","#ff69b4","#1f77b4","#008000"]}, "legend": {"title": null}}}},
        {"transform": [{"filter": "datum.s == 'R-MCBF-QP'"}, {"calculate": "datum.x", "as": "px"}, {"calculate": "datum.y", "as": "py"}],
         "mark": {"type": "line", "interpolate": "linear-closed", "strokeWidth": 2},
         "encoding": {"order": {"field": "i", "type": "quantitative"}, "stroke": {"field": "s", "type": "nominal", "scale": {"domain": ["N-Mod-DS","R-Mod-DS","OnM-Mod-DS","CBF-QP","R-MCBF-QP","onM-MCBF-QP"], "range": ["#ff0000","#ffa500","#9b59b6","#ff69b4","#1f77b4","#008000"]}, "legend": {"title": null}}}},
        {"transform": [{"filter": "datum.s == 'R-Mod-DS'"}, {"calculate": "datum.x", "as": "px"}, {"calculate": "datum.y", "as": "py"}],
         "mark": {"type": "line", "interpolate": "linear-closed", "strokeWidth": 2},
         "encoding": {"order": {"field": "i", "type": "quantitative"}, "stroke": {"field": "s", "type": "nominal", "scale": {"domain": ["N-Mod-DS","R-Mod-DS","OnM-Mod-DS","CBF-QP","R-MCBF-QP","onM-MCBF-QP"], "range": ["#ff0000","#ffa500","#9b59b6","#ff69b4","#1f77b4","#008000"]}, "legend": {"title": null}}}},
        {"transform": [{"filter": "datum.s == 'OnM-Mod-DS'"}, {"calculate": "datum.x", "as": "px"}, {"calculate": "datum.y", "as": "py"}],
         "mark": {"type": "line", "interpolate": "linear-closed", "strokeWidth": 2},
         "encoding": {"order": {"field": "i", "type": "quantitative"}, "stroke": {"field": "s", "type": "nominal", "scale": {"domain": ["N-Mod-DS","R-Mod-DS","OnM-Mod-DS","CBF-QP","R-MCBF-QP","onM-MCBF-QP"], "range": ["#ff0000","#ffa500","#9b59b6","#ff69b4","#1f77b4","#008000"]}, "legend": {"title": null}}}},
        {"transform": [{"filter": "datum.s == 'N-Mod-DS'"}, {"calculate": "datum.x", "as": "px"}, {"calculate": "datum.y", "as": "py"}],
         "mark": {"type": "line", "interpolate": "linear-closed", "strokeWidth": 2},
         "encoding": {"order": {"field": "i", "type": "quantitative"}, "stroke": {"field": "s", "type": "nominal", "scale": {"domain": ["N-Mod-DS","R-Mod-DS","OnM-Mod-DS","CBF-QP","R-MCBF-QP","onM-MCBF-QP"], "range": ["#ff0000","#ffa500","#9b59b6","#ff69b4","#1f77b4","#008000"]}, "legend": {"title": null}}}},
        {"transform": [{"filter": "isValid(datum.k)"}, {"calculate": "datum.x + (datum.a == 'Infeasible #' ? 0.14 : 0)", "as": "px"}, {"calculate": "datum.y + (datum.a == 'Reached %' ? -0.09 : datum.a == 'Duration [s]' ? 0.075 : 0)", "as": "py"}],
         "mark": {"type": "text", "font": "DejaVu Serif", "fontSize": 6.5, "fill": "#8c8c8c", "baseline": "middle", "align": "center"},
         "encoding": {"text": {"field": "v", "type": "quantitative"}}},
        {"transform": [{"filter": "datum.k == 5"}, {"calculate": "datum.i % 2 == 0 ? 1.16 : (datum.i == 1 ? 1.21 : 1.18)", "as": "tr"}, {"calculate": "datum.tr * cos(datum.ang)", "as": "px"}, {"calculate": "datum.tr * sin(datum.ang)", "as": "py"}, {"calculate": "datum.i % 2 == 1 ? 90 : 0", "as": "ta"}],
         "mark": {"type": "text", "font": "DejaVu Serif", "fontSize": 9, "fill": "#000000", "baseline": "middle", "align": "center"},
         "encoding": {"text": {"field": "a", "type": "nominal"}, "angle": {"field": "ta", "type": "quantitative", "scale": null}}},
        {"transform": [{"filter": "isValid(datum.s)"}, {"calculate": "datum.x", "as": "px"}, {"calculate": "datum.y", "as": "py"}, {"calculate": "indexof(['onM-MCBF-QP','R-MCBF-QP','OnM-Mod-DS','N-Mod-DS','R-Mod-DS','CBF-QP'], datum.s)", "as": "z"}],
         "mark": {"type": "point", "filled": true, "strokeWidth": 1.5, "opacity": 1},
         "encoding": {
           "order": {"field": "z", "type": "quantitative"},
           "stroke": {"field": "s", "type": "nominal", "scale": {"domain": ["N-Mod-DS","R-Mod-DS","OnM-Mod-DS","CBF-QP","R-MCBF-QP","onM-MCBF-QP"], "range": ["#ff0000","#ffa500","#9b59b6","#ff69b4","#1f77b4","#008000"]}, "legend": {"title": null}},
           "fill": {"field": "s", "type": "nominal", "scale": {"domain": ["N-Mod-DS","R-Mod-DS","OnM-Mod-DS","CBF-QP","R-MCBF-QP","onM-MCBF-QP"], "range": ["#ff0000","#ffa500","#9b59b6","#ff69b4","#1f77b4","#008000"]}, "legend": {"title": null}},
           "fillOpacity": {"field": "s", "type": "nominal", "scale": {"type": "ordinal", "domain": ["N-Mod-DS","R-Mod-DS","OnM-Mod-DS","CBF-QP","R-MCBF-QP","onM-MCBF-QP"], "range": [0, 1, 0, 1, 1, 0]}, "legend": {"title": null}},
           "shape": {"field": "s", "type": "nominal", "scale": {"domain": ["N-Mod-DS","R-Mod-DS","OnM-Mod-DS","CBF-QP","R-MCBF-QP","onM-MCBF-QP"], "range": ["circle","cross","diamond","M0,-1L0.2245,-0.309L0.951,-0.309L0.363,0.118L0.588,0.809L0,0.382L-0.588,0.809L-0.363,0.118L-0.951,-0.309L-0.2245,-0.309Z","M0,-1L0.951,-0.309L0.588,0.809L-0.588,0.809L-0.951,-0.309Z","square"]}, "legend": {"title": null}},
           "size": {"field": "s", "type": "nominal", "scale": {"type": "ordinal", "domain": ["N-Mod-DS","R-Mod-DS","OnM-Mod-DS","CBF-QP","R-MCBF-QP","onM-MCBF-QP"], "range": [135, 110, 150, 121, 100, 100]}, "legend": null}}},
        {"transform": [{"filter": "isValid(datum.s)"}, {"window": [{"op": "lead", "field": "x", "as": "nx"}, {"op": "lead", "field": "y", "as": "ny"}, {"op": "first_value", "field": "x", "as": "fx"}, {"op": "first_value", "field": "y", "as": "fy"}], "groupby": ["s"], "sort": [{"field": "i", "order": "ascending"}], "frame": [null, null]}, {"calculate": "(datum.x + (isValid(datum.nx) ? datum.nx : datum.fx)) / 2", "as": "px"}, {"calculate": "(datum.y + (isValid(datum.ny) ? datum.ny : datum.fy)) / 2", "as": "py"}, {"calculate": "indexof(['onM-MCBF-QP','R-MCBF-QP','OnM-Mod-DS','N-Mod-DS','R-Mod-DS','CBF-QP'], datum.s)", "as": "z"}],
         "mark": {"type": "point", "filled": true, "strokeWidth": 1.5, "opacity": 1},
         "encoding": {
           "order": {"field": "z", "type": "quantitative"},
           "stroke": {"field": "s", "type": "nominal", "scale": {"domain": ["N-Mod-DS","R-Mod-DS","OnM-Mod-DS","CBF-QP","R-MCBF-QP","onM-MCBF-QP"], "range": ["#ff0000","#ffa500","#9b59b6","#ff69b4","#1f77b4","#008000"]}, "legend": {"title": null}},
           "fill": {"field": "s", "type": "nominal", "scale": {"domain": ["N-Mod-DS","R-Mod-DS","OnM-Mod-DS","CBF-QP","R-MCBF-QP","onM-MCBF-QP"], "range": ["#ff0000","#ffa500","#9b59b6","#ff69b4","#1f77b4","#008000"]}, "legend": {"title": null}},
           "fillOpacity": {"field": "s", "type": "nominal", "scale": {"type": "ordinal", "domain": ["N-Mod-DS","R-Mod-DS","OnM-Mod-DS","CBF-QP","R-MCBF-QP","onM-MCBF-QP"], "range": [0, 1, 0, 1, 1, 0]}, "legend": {"title": null}},
           "shape": {"field": "s", "type": "nominal", "scale": {"domain": ["N-Mod-DS","R-Mod-DS","OnM-Mod-DS","CBF-QP","R-MCBF-QP","onM-MCBF-QP"], "range": ["circle","cross","diamond","M0,-1L0.2245,-0.309L0.951,-0.309L0.363,0.118L0.588,0.809L0,0.382L-0.588,0.809L-0.363,0.118L-0.951,-0.309L-0.2245,-0.309Z","M0,-1L0.951,-0.309L0.588,0.809L-0.588,0.809L-0.951,-0.309Z","square"]}, "legend": {"title": null}},
           "size": {"field": "s", "type": "nominal", "scale": {"type": "ordinal", "domain": ["N-Mod-DS","R-Mod-DS","OnM-Mod-DS","CBF-QP","R-MCBF-QP","onM-MCBF-QP"], "range": [135, 110, 150, 121, 100, 100]}, "legend": null}}}
      ]
    }
  ]
}
